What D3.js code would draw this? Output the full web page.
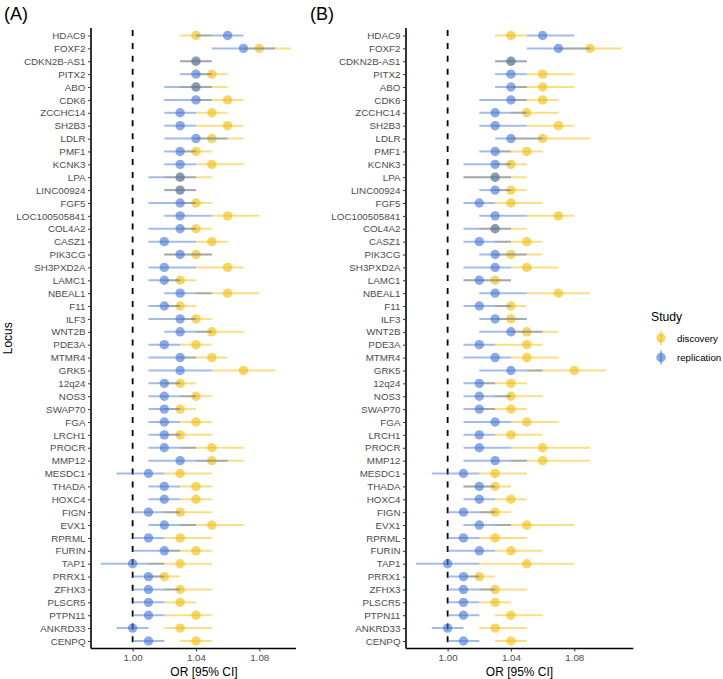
<!DOCTYPE html>
<html><head><meta charset="utf-8">
<script src="https://cdn.jsdelivr.net/npm/d3@7"></script>
<style>body{margin:0;background:#fff;} svg{display:block;font-family:"Liberation Sans",Arial,sans-serif;}</style>
</head><body>
<svg id="chart" width="723" height="679"></svg>
<script>
const loci = ["HDAC9","FOXF2","CDKN2B-AS1","PITX2","ABO","CDK6","ZCCHC14","SH2B3","LDLR","PMF1","KCNK3","LPA","LINC00924","FGF5","LOC100505841","COL4A2","CASZ1","PIK3CG","SH3PXD2A","LAMC1","NBEAL1","F11","ILF3","WNT2B","PDE3A","MTMR4","GRK5","12q24","NOS3","SWAP70","FGA","LRCH1","PROCR","MMP12","MESDC1","THADA","HOXC4","FIGN","EVX1","RPRML","FURIN","TAP1","PRRX1","ZFHX3","PLSCR5","PTPN11","ANKRD33","CENPQ"];

// Panel A
const aDiscOR = [1.04,1.08,1.04,1.05,1.04,1.06,1.05,1.06,1.05,1.04,1.05,1.03,1.03,1.04,1.06,1.04,1.05,1.04,1.06,1.03,1.06,1.03,1.04,1.05,1.04,1.05,1.07,1.03,1.04,1.03,1.04,1.03,1.05,1.05,1.03,1.04,1.04,1.03,1.05,1.03,1.04,1.03,1.02,1.03,1.03,1.04,1.03,1.04];
const aDiscLo = [1.03,1.07,1.03,1.04,1.03,1.04,1.04,1.04,1.04,1.03,1.04,1.02,1.02,1.03,1.05,1.03,1.04,1.02,1.04,1.02,1.04,1.02,1.03,1.04,1.03,1.03,1.05,1.02,1.03,1.02,1.03,1.02,1.03,1.04,1.02,1.03,1.03,1.02,1.03,1.02,1.02,1.01,1.01,1.02,1.02,1.02,1.02,1.03];
const aDiscHi = [1.05,1.10,1.05,1.06,1.06,1.07,1.06,1.07,1.07,1.05,1.07,1.05,1.04,1.05,1.08,1.05,1.06,1.05,1.07,1.04,1.08,1.04,1.05,1.07,1.05,1.06,1.09,1.04,1.05,1.04,1.05,1.05,1.07,1.07,1.05,1.05,1.05,1.05,1.07,1.05,1.05,1.05,1.03,1.05,1.04,1.05,1.05,1.05];
const aRepOR = [1.06,1.07,1.04,1.04,1.04,1.04,1.03,1.03,1.04,1.03,1.03,1.03,1.03,1.03,1.03,1.03,1.02,1.03,1.02,1.02,1.03,1.02,1.03,1.03,1.02,1.03,1.03,1.02,1.02,1.02,1.02,1.02,1.02,1.03,1.01,1.02,1.02,1.01,1.02,1.01,1.02,1.00,1.01,1.01,1.01,1.01,1.00,1.01];
const aRepLo = [1.04,1.05,1.03,1.03,1.02,1.02,1.02,1.02,1.02,1.02,1.02,1.01,1.02,1.01,1.02,1.01,1.01,1.02,1.01,1.01,1.02,1.01,1.01,1.02,1.01,1.01,1.01,1.01,1.01,1.01,1.01,1.01,1.01,1.01,0.99,1.01,1.01,1.00,1.01,1.00,1.00,0.98,1.00,1.00,1.00,1.00,0.99,1.00];
const aRepHi = [1.07,1.09,1.05,1.05,1.05,1.05,1.04,1.04,1.06,1.04,1.04,1.04,1.04,1.04,1.05,1.04,1.04,1.05,1.04,1.03,1.05,1.03,1.04,1.05,1.03,1.04,1.05,1.03,1.04,1.03,1.03,1.03,1.04,1.06,1.02,1.03,1.03,1.03,1.04,1.02,1.03,1.02,1.02,1.03,1.02,1.02,1.01,1.02];

// Panel B
const bDiscOR = [1.04,1.09,1.04,1.06,1.06,1.06,1.05,1.07,1.06,1.05,1.04,1.03,1.04,1.04,1.07,1.03,1.05,1.04,1.05,1.03,1.07,1.04,1.04,1.05,1.05,1.05,1.08,1.04,1.04,1.04,1.05,1.04,1.06,1.06,1.03,1.03,1.04,1.03,1.05,1.03,1.04,1.05,1.02,1.03,1.03,1.04,1.03,1.04];
const bDiscLo = [1.03,1.07,1.03,1.05,1.04,1.04,1.04,1.05,1.04,1.03,1.03,1.01,1.03,1.03,1.05,1.02,1.03,1.03,1.04,1.01,1.05,1.03,1.03,1.04,1.03,1.04,1.05,1.02,1.03,1.02,1.04,1.03,1.04,1.04,1.02,1.01,1.03,1.02,1.03,1.02,1.03,1.02,1.01,1.02,1.02,1.03,1.02,1.03];
const bDiscHi = [1.05,1.11,1.05,1.08,1.08,1.07,1.07,1.08,1.09,1.06,1.05,1.05,1.05,1.06,1.08,1.05,1.06,1.06,1.07,1.04,1.09,1.05,1.05,1.07,1.06,1.07,1.10,1.05,1.06,1.05,1.07,1.06,1.09,1.09,1.05,1.04,1.05,1.04,1.08,1.05,1.06,1.08,1.03,1.05,1.04,1.06,1.05,1.05];
const bRepOR = [1.06,1.07,1.04,1.04,1.04,1.04,1.03,1.03,1.04,1.03,1.03,1.03,1.03,1.02,1.03,1.03,1.02,1.03,1.03,1.02,1.03,1.02,1.03,1.04,1.02,1.03,1.04,1.02,1.02,1.02,1.03,1.02,1.02,1.03,1.01,1.02,1.02,1.01,1.02,1.01,1.02,1.00,1.01,1.01,1.01,1.01,1.00,1.01];
const bRepLo = [1.05,1.05,1.03,1.03,1.03,1.02,1.02,1.02,1.03,1.02,1.01,1.01,1.02,1.01,1.02,1.01,1.01,1.02,1.01,1.01,1.02,1.01,1.02,1.02,1.01,1.01,1.02,1.01,1.01,1.01,1.01,1.01,1.01,1.01,0.99,1.01,1.01,1.00,1.01,1.00,1.00,0.98,1.00,1.00,1.00,1.00,0.99,1.00];
const bRepHi = [1.08,1.09,1.05,1.05,1.05,1.05,1.05,1.05,1.06,1.04,1.04,1.04,1.04,1.03,1.05,1.04,1.04,1.05,1.04,1.04,1.05,1.04,1.05,1.06,1.03,1.04,1.06,1.03,1.04,1.03,1.04,1.03,1.04,1.05,1.02,1.03,1.03,1.03,1.04,1.02,1.03,1.02,1.02,1.03,1.02,1.02,1.01,1.02];

const studies = ["discovery","replication"];
const xTicks = [1.00, 1.04, 1.08];
const panelLabels = ["(A)","(B)"];

const colors = {discovery:"#F2BB00", replication:"#3F71D5"};
const alpha = 0.6;

const svg = d3.select("#chart");

function build(or, lo, hi, study){
  return loci.map((l,i)=>({locus:l, or:or[i], lo:lo[i], hi:hi[i], study}));
}

const panels = [
  {label:panelLabels[0], x0:91, x1:296, domain:[0.9737,1.1032], showTitleY:true, titleX:204,
   data:[build(aDiscOR,aDiscLo,aDiscHi,"discovery"), build(aRepOR,aRepLo,aRepHi,"replication")]},
  {label:panelLabels[1], x0:406, x1:633.3, domain:[0.9737,1.1173], showTitleY:false, titleX:519.5,
   data:[build(bDiscOR,bDiscLo,bDiscHi,"discovery"), build(bRepOR,bRepLo,bRepHi,"replication")]}
];

const plotTop = 28, plotBottom = 648.5;
const y = d3.scalePoint().domain(loci).range([35.5, 641]);

panels.forEach((p, pi) => {
  const x = d3.scaleLinear().domain(p.domain).range([p.x0, p.x1]);
  const g = svg.append("g");

  // reference line
  g.append("line")
    .attr("x1", x(1)).attr("x2", x(1))
    .attr("y1", plotTop).attr("y2", plotBottom)
    .attr("stroke", "#000").attr("stroke-width", 1.8)
    .attr("stroke-dasharray", "6,6.9").attr("stroke-dashoffset", -2);

  // series
  p.data.forEach(series => {
    const c = colors[series[0].study];
    const sg = g.append("g");
    sg.selectAll("line.ci").data(series).enter().append("line")
      .attr("class","ci")
      .attr("x1", d=>x(d.lo)).attr("x2", d=>x(d.hi))
      .attr("y1", d=>y(d.locus)).attr("y2", d=>y(d.locus))
      .attr("stroke", c).attr("stroke-opacity", alpha*0.8).attr("stroke-width", 2);
    sg.selectAll("circle").data(series).enter().append("circle")
      .attr("cx", d=>x(d.or)).attr("cy", d=>y(d.locus)).attr("r", 4.7)
      .attr("fill", c).attr("fill-opacity", alpha);
  });

  // axes
  const ax = d3.axisLeft(y).tickSize(3).tickPadding(2.5);
  const gy = g.append("g").attr("transform", `translate(${p.x0},0)`).call(ax);
  gy.select(".domain").attr("d", `M0,${plotTop}V${plotBottom}`).attr("stroke","#000").attr("stroke-width",1.6);
  gy.selectAll(".tick line").attr("stroke","#333").attr("stroke-width",1);
  gy.selectAll(".tick text").attr("fill","#4d4d4d").style("font-size","9.8px");

  const bx = d3.axisBottom(x).tickValues(xTicks).tickFormat(d3.format(".2f")).tickSize(3).tickPadding(3);
  const gx = g.append("g").attr("transform", `translate(0,${plotBottom})`).call(bx);
  gx.select(".domain").attr("d", `M${p.x0},0H${p.x1}`).attr("stroke","#000").attr("stroke-width",1.6);
  gx.selectAll(".tick line").attr("stroke","#333").attr("stroke-width",1);
  gx.selectAll(".tick text").attr("fill","#4d4d4d").style("font-size","9.8px");

  g.append("text").attr("x", p.titleX).attr("y", 676).attr("text-anchor","middle")
    .style("font-size","12px").attr("fill","#000").text("OR [95% CI]");

  g.append("text").attr("x", pi===0 ? 4 : 310).attr("y", 20)
    .style("font-size","18px").attr("fill","#000").text(p.label);

  if (p.showTitleY) {
    g.append("text").attr("transform", `translate(12,${(plotTop+plotBottom)/2}) rotate(-90)`)
      .attr("text-anchor","middle").style("font-size","12px").attr("fill","#000").text("Locus");
  }
});

// legend
const lg = svg.append("g");
lg.append("text").attr("x", 651).attr("y", 321).style("font-size","12.2px").attr("fill","#000").text("Study");
studies.forEach((s, i) => {
  const cy = 338 + i * 19.5;
  lg.append("line").attr("x1", 661).attr("x2", 661).attr("y1", cy-7).attr("y2", cy+7)
    .attr("stroke", colors[s]).attr("stroke-opacity", alpha*0.8).attr("stroke-width", 2);
  lg.append("circle").attr("cx", 661).attr("cy", cy).attr("r", 4.7)
    .attr("fill", colors[s]).attr("fill-opacity", alpha);
  lg.append("text").attr("x", 677).attr("y", cy + 3.5).style("font-size","9.7px").attr("fill","#000").text(s);
});
</script>
</body></html>
